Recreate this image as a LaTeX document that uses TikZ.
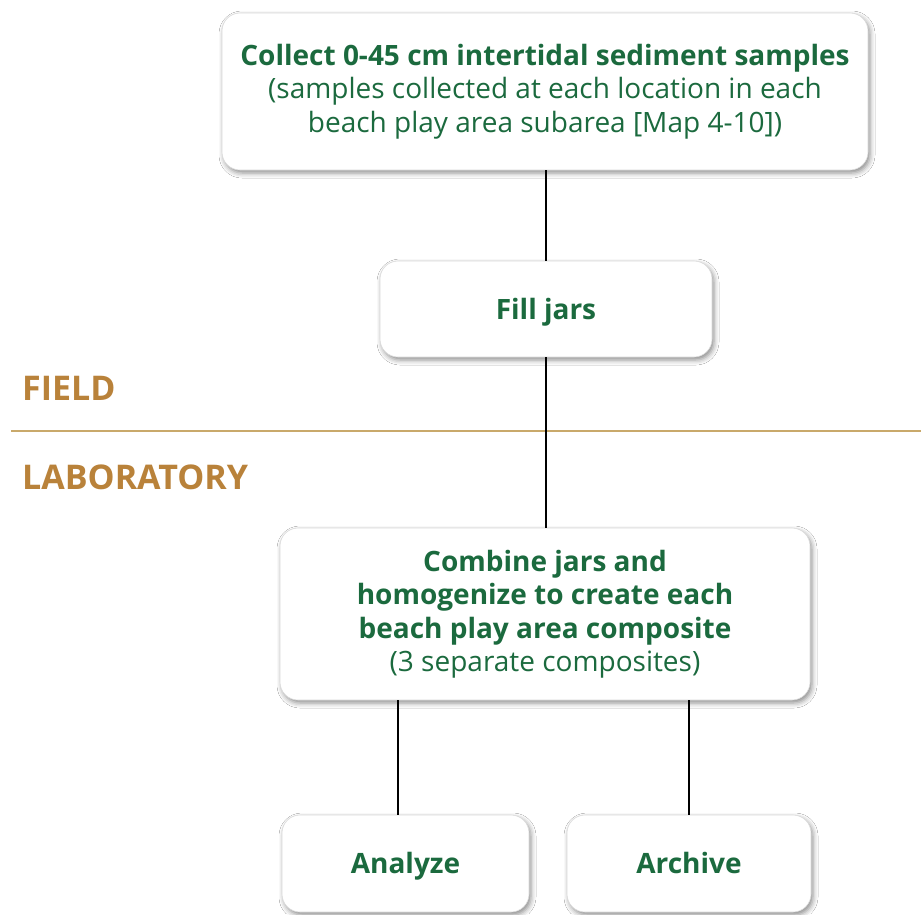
\documentclass[tikz,border=0pt]{standalone}
\usepackage{fontspec}
\setmainfont{Open Sans}
\usetikzlibrary{shadows.blur}
\definecolor{boxgreen}{HTML}{1B6A3E}
\definecolor{tanline}{HTML}{C9A96B}
\definecolor{tantext}{HTML}{B9823A}
\definecolor{boxedge}{HTML}{D9D9D9}
\tikzset{
  stepbox/.style={draw=boxedge, line width=0.6pt, fill=white, rounded corners=18pt,
    blur shadow={shadow xshift=2pt, shadow yshift=-3pt, shadow blur radius=5pt, shadow opacity=45},
    text=boxgreen, align=center, inner sep=0pt, font=\fontsize{28}{33.5}\selectfont},
  oneline/.style={text height=20pt, text depth=0pt},
  link/.style={draw=black, line width=1.2pt},
  zone/.style={text=tantext, anchor=west, inner sep=0pt, font=\fontsize{34}{38}\selectfont\bfseries}
}
\begin{document}
\begin{tikzpicture}[x=1pt,y=-1pt]
\useasboundingbox (0,0) rectangle (921,914);
\fill[white] (0,0) rectangle (921,914);

% section divider between field and laboratory work
\coordinate (divL) at (11,431);
\coordinate (divR) at (921,431);
\draw[tanline, line width=2.6pt] (divL) -- (divR);
\node[zone] (field) at (22,388) {FIELD};
\node[zone] (lab) at (22,477) {LABORATORY};

% process steps
\node[stepbox, minimum width=646pt, minimum height=157pt] (collect) at (545,91.5)
  {\textbf{Collect 0-45 cm intertidal sediment samples}\\
   (samples collected at each location in each\\
   beach play area subarea [Map 4-10])};
\node[stepbox, oneline, minimum width=332pt, minimum height=96pt] (fill) at (546,309)
  {\textbf{Fill jars}};
\node[stepbox, minimum width=530pt, minimum height=172pt] (combine) at (545,614)
  {\textbf{Combine jars and}\\
   \textbf{homogenize to create each}\\
   \textbf{beach play area composite}\\
   (3 separate composites)};
\node[stepbox, oneline, minimum width=247pt, minimum height=97pt] (analyze) at (405.5,863.5)
  {\textbf{Analyze}};
\node[stepbox, oneline, minimum width=244pt, minimum height=97pt] (archive) at (689,863.5)
  {\textbf{Archive}};

% connectors
\draw[link] (collect.south -| fill.north) -- (fill.north);
\draw[link] (fill.south) -- (combine.north -| fill.south);
\draw[link] (combine.south -| 398,0) -- (analyze.north -| 398,0);
\draw[link] (combine.south -| archive.north) -- (archive.north);
\end{tikzpicture}
\end{document}
